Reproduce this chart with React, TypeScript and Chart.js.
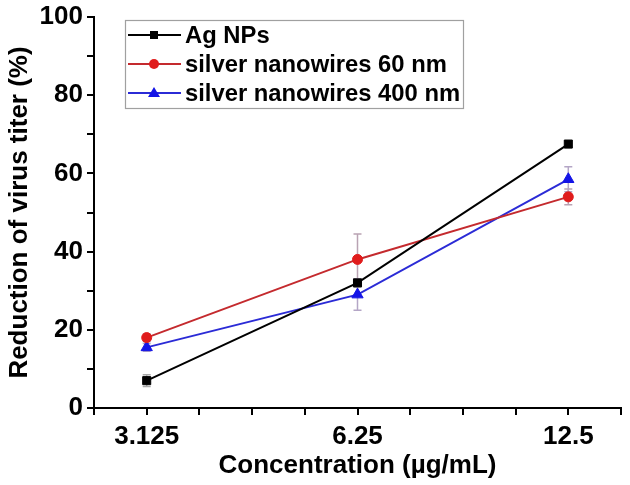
import React, { useEffect, useRef } from "react";
import { Chart, registerables } from "chart.js";

Chart.register(...registerables);

const concentrations = ["3.125", "6.25", "12.5"];
const seriesNames = ["Ag NPs", "silver nanowires 60 nm", "silver nanowires 400 nm"];
const agNPs = [7, 32, 67.5];
const nw60 = [18, 38, 54];
const nw400 = [15.5, 29, 58.5];
const agNPsErr = [1.5, 1, 0.8];
const nw60Err = [1, 6.5, 2];
const nw400Err = [1, 4, 3.2];
const yTicks = [0, 20, 40, 60, 80, 100];

const FONT = "'Liberation Sans', Arial, Helvetica, sans-serif";

const toPoints = (vals: number[]) => vals.map((y, i) => ({ x: i, y }));

const errorBarPlugin = {
  id: "errorBars",
  beforeDatasetsDraw(chart: any) {
    const { ctx } = chart;
    const xs = chart.scales.x;
    const ys = chart.scales.y;
    ctx.save();
    chart.data.datasets.forEach((ds: any) => {
      const errs: number[] = ds.errors || [];
      ds.data.forEach((p: any, i: number) => {
        const e = errs[i];
        if (!e) return;
        const x = xs.getPixelForValue(p.x);
        const y1 = ys.getPixelForValue(p.y + e);
        const y2 = ys.getPixelForValue(p.y - e);
        ctx.strokeStyle = ds.errColor;
        ctx.lineWidth = 1.5;
        ctx.beginPath();
        ctx.moveTo(x, y1);
        ctx.lineTo(x, y2);
        ctx.moveTo(x - 4, y1);
        ctx.lineTo(x + 4, y1);
        ctx.moveTo(x - 4, y2);
        ctx.lineTo(x + 4, y2);
        ctx.stroke();
      });
    });
    ctx.restore();
  },
};

const legendPlugin = {
  id: "insideLegend",
  afterDraw(chart: any) {
    const { ctx, chartArea } = chart;
    const left = chartArea.left + 31;
    const top = chartArea.top + 3;
    const w = 338;
    const h = 88;
    ctx.save();
    ctx.strokeStyle = "#a0a0a0";
    ctx.lineWidth = 1.2;
    ctx.strokeRect(left + 0.5, top + 0.5, w, h);
    ctx.font = `bold 23.8px ${FONT}`;
    ctx.textBaseline = "middle";
    ctx.textAlign = "left";
    chart.data.datasets.forEach((ds: any, i: number) => {
      const y = top + 15 + i * 29;
      ctx.strokeStyle = ds.borderColor;
      ctx.lineWidth = 2;
      ctx.beginPath();
      ctx.moveTo(left + 3, y);
      ctx.lineTo(left + 56, y);
      ctx.stroke();
      ctx.fillStyle = ds.pointBackgroundColor;
      const cx = left + 29;
      ctx.beginPath();
      if (ds.pointStyle === "rect") {
        ctx.rect(cx - 4, y - 4, 8, 8);
      } else if (ds.pointStyle === "circle") {
        ctx.arc(cx, y, 5, 0, Math.PI * 2);
      } else {
        ctx.moveTo(cx, y - 6);
        ctx.lineTo(cx + 6, y + 4);
        ctx.lineTo(cx - 6, y + 4);
        ctx.closePath();
      }
      ctx.fill();
      ctx.fillStyle = "#000";
      ctx.fillText(ds.label, left + 60, y + 1);
    });
    ctx.restore();
  },
};

export default function App() {
  const ref = useRef<HTMLCanvasElement>(null);
  useEffect(() => {
    document.body.style.margin = "0";
    const canvas = ref.current!;
    const mk = (
      label: string,
      vals: number[],
      errs: number[],
      line: string,
      pt: string,
      style: string,
      r: number,
      errColor: string
    ) => ({
      label,
      data: toPoints(vals),
      errors: errs,
      errColor,
      borderColor: line,
      borderWidth: 2,
      pointBackgroundColor: pt,
      pointBorderColor: pt,
      pointStyle: style,
      pointRadius: r,
      pointBorderWidth: 1,
      tension: 0,
      fill: false,
    });
    const chart = new Chart(canvas, {
      type: "line",
      data: {
        datasets: [
          mk(seriesNames[0], agNPs, agNPsErr, "#000000", "#000000", "rect", 5.7, "#a8a8a8"),
          mk(seriesNames[1], nw60, nw60Err, "#c42a2e", "#e01c1c", "circle", 5, "#b9a3b3"),
          mk(seriesNames[2], nw400, nw400Err, "#2b2bd6", "#1414e6", "triangle", 6.5, "#b4a6c6"),
        ] as any,
      },
      options: {
        responsive: false,
        animation: false,
        layout: { padding: { top: 13, right: 6, left: 0, bottom: 0 } },
        plugins: { legend: { display: false }, tooltip: { enabled: false } },
        scales: {
          x: {
            type: "linear",
            min: -0.25,
            max: 2.25,
            afterFit: (s: any) => {
              s.height = 77;
            },
            border: { color: "#000", width: 2 },
            grid: {
              drawOnChartArea: false,
              drawTicks: true,
              tickLength: 7,
              color: "#000",
              lineWidth: 2,
            },
            ticks: {
              stepSize: 0.25,
              autoSkip: false,
              maxRotation: 0,
              padding: 9,
              color: "#000",
              font: { family: FONT, size: 26, weight: "bold", lineHeight: 1.0 },
              callback: (v: any) => {
                const n = Number(v);
                const r = Math.round(n);
                return Math.abs(n - r) < 1e-6 && r >= 0 && r < concentrations.length
                  ? concentrations[r]
                  : "";
              },
            },
            title: {
              display: true,
              text: "Concentration (\u00b5g/mL)",
              color: "#000",
              font: { family: FONT, size: 26, weight: "bold" },
              padding: { top: 0, bottom: 4 },
            },
          },
          y: {
            min: 0,
            max: 100,
            afterFit: (s: any) => {
              s.width = 94;
            },
            border: { color: "#000", width: 2 },
            grid: {
              drawOnChartArea: false,
              drawTicks: true,
              tickLength: 7,
              color: "#000",
              lineWidth: 2,
            },
            ticks: {
              stepSize: 10,
              autoSkip: false,
              padding: 4,
              color: "#000",
              font: { family: FONT, size: 26, weight: "bold", lineHeight: 1.0 },
              callback: (v: any) => (yTicks.includes(Number(v)) ? String(v) : ""),
            },
            title: {
              display: true,
              text: "Reduction of virus titer (%)",
              color: "#000",
              font: { family: FONT, size: 26, weight: "bold" },
              padding: { top: 4, bottom: 0 },
            },
          },
        },
      } as any,
      plugins: [errorBarPlugin, legendPlugin],
    });
    return () => chart.destroy();
  }, []);
  return (
    <div style={{ width: 630, height: 485, background: "#fff" }}>
      <canvas ref={ref} width={630} height={485} />
    </div>
  );
}
